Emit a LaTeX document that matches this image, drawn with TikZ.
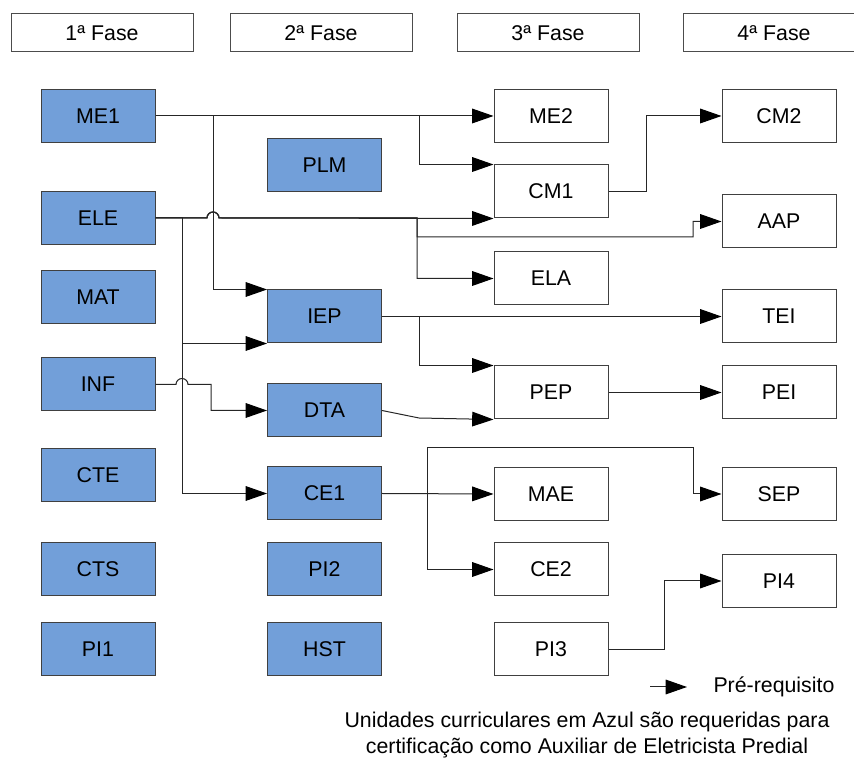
\documentclass[tikz,border=0pt]{standalone}
\usepackage{fontspec}
\setmainfont{Liberation Sans}
\usetikzlibrary{arrows.meta}
\definecolor{ucblue}{RGB}{114,159,217}

\begin{document}
\begin{tikzpicture}[x=0.75pt,y=-0.75pt,line width=0.75pt,font=\fontsize{16}{19}\selectfont]
		\tikzstyle{fase}=[draw=black!70,fill=white,minimum width=136.5pt,minimum height=28.5pt,inner sep=0pt]
		\tikzstyle{uc}=[draw=black!75,fill=white,minimum width=85.5pt,minimum height=39.75pt,inner sep=0pt]
		\tikzstyle{ucazul}=[uc,fill=ucblue]
		\tikzstyle{pre}=[draw=black!85,-{Triangle[length=16pt,width=11pt,color=black]}]
		\useasboundingbox (0,0) rectangle (854,762);

		\node[fase] (f1) at (102,33) {1ª Fase};
		\node[fase] (f2) at (321,33) {2ª Fase};
		\node[fase] (f3) at (548,33) {3ª Fase};
		\node[fase] (f4) at (774,33) {4ª Fase};

		\node[ucazul] (me1) at (98,116) {ME1};
		\node[ucazul] (ele) at (98,218) {ELE};
		\node[ucazul] (mat) at (98,297.5) {MAT};
		\node[ucazul] (inf) at (98,384.5) {INF};
		\node[ucazul] (cte) at (98,475) {CTE};
		\node[ucazul] (cts) at (98,569.5) {CTS};
		\node[ucazul] (pi1) at (98,649.5) {PI1};

		\node[ucazul] (plm) at (324.5,165) {PLM};
		\node[ucazul] (iep) at (324.5,316.5) {IEP};
		\node[ucazul] (dta) at (324.5,410.5) {DTA};
		\node[ucazul] (ce1) at (324.5,493.5) {CE1};
		\node[ucazul] (pi2) at (324.5,569.5) {PI2};
		\node[ucazul] (hst) at (324.5,649.5) {HST};

		\node[uc] (me2) at (551,116) {ME2};
		\node[uc] (cm1) at (551,191.5) {CM1};
		\node[uc] (ela) at (551,278.5) {ELA};
		\node[uc] (pep) at (551,392.5) {PEP};
		\node[uc] (mae) at (551,494) {MAE};
		\node[uc] (ce2) at (551,569.5) {CE2};
		\node[uc] (pi3) at (551,649.5) {PI3};

		\node[uc] (cm2) at (779,116) {CM2};
		\node[uc] (aap) at (779,221.5) {AAP};
		\node[uc] (tei) at (779,316.5) {TEI};
		\node[uc] (pei) at (779,392.5) {PEI};
		\node[uc] (sep) at (779,494) {SEP};
		\node[uc] (pi4) at (779,581) {PI4};

		\draw[pre] (me1.east) -- (me2.west);
		\draw[pre] (me1.east) -- (213,116) |- (iep.north west);
		\draw[pre] (me1.east) -- (419,116) |- (cm1.north west);
		\draw[pre] (ele.east) -- (207,218) arc[start angle=180,end angle=360,radius=6] -- (cm1.south west);
		\draw[pre] (ele.east) -- (207,218) arc[start angle=180,end angle=360,radius=6] -- (417,218) -- (417,237) -- (693,237) |- (aap.west);
		\draw[pre] (ele.east) -- (207,218) arc[start angle=180,end angle=360,radius=6] -- (417,218) |- (ela.west);
		\draw[pre] (ele.east) -- (182,218) |- (iep.south west);
		\draw[pre] (ele.east) -- (182,218) |- (ce1.west);
		\draw[pre] (inf.east) -- (176,384.5) arc[start angle=180,end angle=360,radius=6] -- (211,384.5) |- (dta.west);
		\draw[pre] (iep.east) -- (tei.west);
		\draw[pre] (iep.east) -- (419,316.5) |- (pep.north west);
		\draw[pre] (dta.east) -- (419,418) -- (pep.south west);
		\draw[pre] (pep.east) -- (pei.west);
		\draw[pre] (cm1.east) -- (646,191.5) |- (cm2.west);
		\draw[pre] (ce1.east) -- (mae.west);
		\draw[pre] (ce1.east) -- (427,493.5) |- (ce2.west);
		\draw[pre] (ce1.east) -- (427,493.5) -- (427,448) -- (693,448) |- (sep.west);
		\draw[pre] (pi3.east) -- (664,649.5) |- (pi4.west);

		\coordinate (leg) at (650,687);
		\node[anchor=west,inner sep=0pt] (legtxt) at (713,687) {Pré-requisito};
		\draw[pre] (leg) -- (687,687);
		\node[align=center] (nota) at (587,735) {Unidades curriculares em Azul são requeridas para\\certificação como Auxiliar de Eletricista Predial};
\end{tikzpicture}
\end{document}
